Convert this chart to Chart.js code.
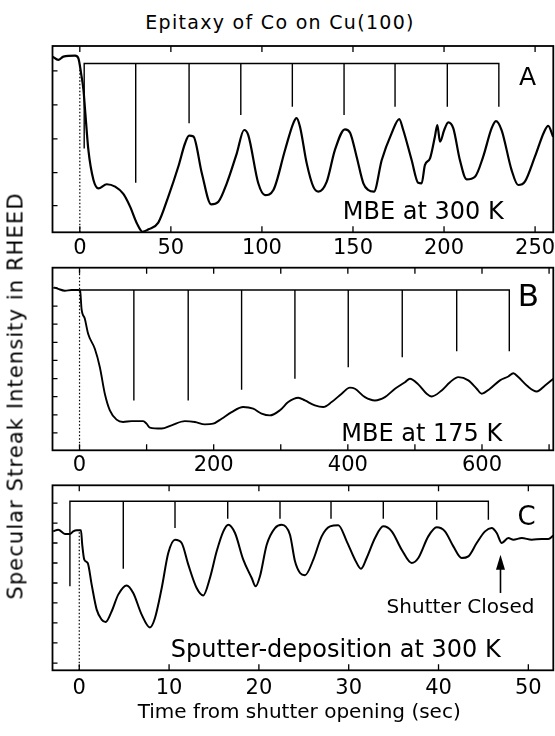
<!DOCTYPE html>
<html><head><meta charset="utf-8">
<script src="https://cdn.jsdelivr.net/npm/chart.js@4.4.1/dist/chart.umd.min.js"></script>
<style>
html,body{margin:0;padding:0;background:#fff;}
body{width:555px;height:736px;position:relative;overflow:hidden;font-family:"DejaVu Sans",sans-serif;color:#000;}
canvas{position:absolute;left:0;}
.t{position:absolute;white-space:nowrap;line-height:1;transform:translate(-50%,-50%);}
</style></head><body>
<canvas id="cA" width="555" height="222" style="top:40px"></canvas>
<canvas id="cB" width="555" height="217" style="top:262px"></canvas>
<canvas id="cC" width="555" height="221" style="top:479px"></canvas>
<div class="t" style="left:280px;top:21.7px;font-size:19px;letter-spacing:1.3px">Epitaxy of Co on Cu(100)</div>
<div class="t" style="left:15.8px;top:395.5px;font-size:21px;letter-spacing:1.1px;transform:translate(-50%,-50%) rotate(-90deg)">Specular Streak Intensity in RHEED</div>
<div class="t" style="left:299.2px;top:710.8px;font-size:20px">Time from shutter opening (sec)</div>
<div class="t" style="left:527.5px;top:76px;font-size:25px">A</div>
<div class="t" style="left:423.3px;top:210.8px;font-size:24px">MBE at 300 K</div>
<div class="t" style="left:528.3px;top:295px;font-size:31px">B</div>
<div class="t" style="left:421.7px;top:432.5px;font-size:24px">MBE at 175 K</div>
<div class="t" style="left:526.7px;top:515.5px;font-size:26px">C</div>
<div class="t" style="left:460.5px;top:606.3px;font-size:20px">Shutter Closed</div>
<div class="t" style="left:335.8px;top:649px;font-size:24px">Sputter-deposition at 300 K</div>
<script>
// ---------- Panel A : MBE at 300 K ----------
const aTime = [-15.0,-11.8,-9.0,-2.6,-0.8,0.7,2.0,2.9,4.7,7.5,
  10.2,14.8,19.4,23.9,27.6,31.3,34.4,37.7,43.1,48.6,
  54.1,57.8,60.0,62.4,67.0,72.1,76.1,80.7,86.2,90.2,
  92.5,98.0,101.7,106.3,112.7,117.2,119.0,120.9,124.6,128.2,
  131.0,135.6,140.1,145.6,148.4,152.0,155.7,158.4,161.5,165.8,
  171.2,175.4,177.6,182.2,185.8,187.7,189.5,192.3,195.0,196.3,
  197.8,200.1,202.3,205.1,208.7,212.4,217.0,221.5,226.1,228.5,
  231.6,237.1,240.7,244.4,249.9,255.0,257.2,259.9];
const aSignal = [94.3,92.5,94.3,94.8,93.4,85.3,76.4,65.6,44.2,28.1,
  23.6,25.8,24.5,20.6,13.8,4.9,0.3,1.6,5.2,19.2,
  35.3,47.8,51.9,51.4,31.7,15.0,16.4,26.3,42.4,54.9,
  52.2,26.3,20.0,22.7,44.2,58.5,61.3,56.7,37.0,24.5,
  21.8,27.2,44.2,55.3,53.5,40.6,26.3,22.7,21.8,38.8,
  53.1,60.8,54.9,38.8,26.6,26.3,36.1,39.7,51.4,57.6,
  48.6,54.9,59.0,55.8,38.8,28.4,29.8,40.6,55.8,59.7,
  54.9,33.4,25.4,27.2,40.6,54.0,57.1,51.3];
const aCombTime = [2.4,30.7,60.0,88.4,116.7,145.1,173.1,201.8,230.1];
const aCombDepth = [45.0,26.6,58.5,63.0,67.4,63.0,67.4,67.4,67.4];
const aCombTop = 90.6;
const aXTicks = [0,50,100,150,200,250];
const aXLabels = [0,50,100,150,200,250];
const aYTicks = [14.3,32.0,50.1,68.4,86.6];

// ---------- Panel B : MBE at 175 K ----------
const bTime = [-37.9,-31.9,-21.9,-11.9,-2.1,0.9,3.0,7.9,12.8,22.8,
  30.3,37.7,45.2,55.2,65.0,77.6,94.9,99.9,104.8,122.3,
  137.2,157.0,172.0,186.9,199.3,211.8,226.7,244.0,258.9,271.4,
  283.8,298.7,311.1,326.0,336.0,350.9,363.3,375.8,390.8,403.1,
  410.6,425.5,440.4,455.3,470.3,485.2,492.6,505.0,517.5,525.0,
  539.9,552.3,564.7,579.6,592.1,599.6,611.9,626.8,639.2,646.7,
  654.1,666.7,681.6,694.0,706.3];
const bSignal = [89.2,88.4,87.4,87.8,87.8,87.4,77.4,72.0,63.8,55.6,
  45.5,31.0,21.9,16.8,15.5,16.0,16.0,14.6,12.4,11.9,
  13.7,16.0,15.5,14.2,14.6,17.3,20.9,23.7,22.8,20.1,
  19.1,21.9,26.4,28.8,27.3,24.6,23.7,26.4,31.0,34.3,
  33.7,29.1,27.3,29.1,33.7,37.3,39.2,36.1,31.0,29.5,
  32.8,37.3,40.1,38.3,33.7,31.0,33.7,38.3,40.4,42.2,
  40.1,35.5,32.2,35.5,39.2];
const bCombTime = [0.4,81.0,162.0,241.6,321.1,400.6,481.1,562.3,640.7];
const bCombDepth = [87.8,27.3,27.3,33.2,39.2,45.5,51.0,54.3,54.3];
const bCombTop = 87.8;
const bXTicks = [0,100,200,300,400,500,600,700];
const bXLabels = [0,200,400,600];
const bYTicks = [9.5,19.4,29.4,39.3,49.2,59.1,69.1,79.0,88.9];

// ---------- Panel C : Sputter-deposition at 300 K ----------
const cTime = [-2.90,-2.34,-1.59,-1.04,-0.67,-0.29,0.19,0.33,0.56,0.94,
  1.38,1.94,2.49,2.94,3.61,4.34,5.28,6.01,6.95,7.87,
  8.43,9.18,9.91,10.66,11.40,12.14,13.07,13.81,14.55,15.30,
  16.04,16.59,17.34,18.26,19.20,19.64,20.12,20.87,21.79,22.54,
  23.46,24.02,24.58,25.13,26.06,26.99,27.92,28.84,29.78,30.70,
  31.37,32.00,32.93,33.85,34.79,35.90,37.02,37.75,38.86,39.80,
  40.72,41.65,42.58,43.32,44.25,45.18,45.92,46.48,47.04,47.77,
  48.33,49.27,50.38,51.49,52.23,52.78];
const cSignal = [75.1,76.0,73.7,73.7,75.1,75.7,75.7,67.9,59.8,58.0,
  46.3,32.8,27.4,26.1,31.9,40.9,45.9,41.8,30.1,23.2,
  28.3,44.5,63.4,70.6,68.8,57.1,44.5,40.5,49.9,64.3,
  75.1,78.7,74.2,59.8,49.9,45.4,50.8,67.9,76.9,78.7,
  73.3,58.9,52.6,51.4,59.8,72.4,77.8,78.4,69.7,59.8,
  54.9,60.7,71.5,77.8,75.1,65.2,58.0,60.7,72.4,77.3,
  75.1,67.0,60.7,61.6,68.8,75.1,76.9,74.2,68.8,71.5,
  70.6,71.5,70.6,71.0,71.0,72.8];
const cCombTime = [-1.04,4.90,10.66,16.53,22.35,28.03,33.85,39.80,45.55];
const cCombDepth = [45.4,54.9,76.9,81.9,81.9,81.9,81.9,81.4,81.4];
const cCombTop = 91.4;
const cXTicks = [0,10,20,30,40,50];
const cXLabels = [0,10,20,30,40,50];
const cYTicks = [3.9,14.8,25.6,36.4,47.2,58.0,68.8,79.6,90.4];
const cShutterClosed = {time: 46.9, tip: 62.5, tail: 41.8};

// ---------- helpers ----------
function pts(xs, ys){ return xs.map((x,i)=>({x:x, y:ys[i]})); }
function comb(xs, depths, top){
  const p = [];
  xs.forEach((x,i)=>{ p.push({x:x,y:top},{x:x,y:depths[i]},{x:x,y:top}); });
  return p;
}

const frameTicks = {
  id:'frameTicks',
  afterDatasetsDraw(chart, args, o){
    const ctx = chart.ctx, a = chart.chartArea, xs = chart.scales.x, ys = chart.scales.y;
    ctx.save();
    ctx.strokeStyle = '#000';
    ctx.lineWidth = 1.8;
    ctx.strokeRect(a.left, a.top, a.right - a.left, a.bottom - a.top);
    ctx.lineWidth = 1.3;
    ctx.beginPath();
    xs.ticks.forEach(t=>{
      const px = xs.getPixelForValue(t.value);
      ctx.moveTo(px, a.bottom); ctx.lineTo(px, a.bottom - o.xLen);
      ctx.moveTo(px, a.top); ctx.lineTo(px, a.top + o.xLen);
    });
    (o.yMarks||[]).forEach(v=>{
      const py = ys.getPixelForValue(v);
      ctx.moveTo(a.left, py); ctx.lineTo(a.left + o.yLen, py);
    });
    ctx.stroke();
    if (o.arrow) {
      const px = xs.getPixelForValue(o.arrow.time);
      const pTip = ys.getPixelForValue(o.arrow.tip);
      const pTail = ys.getPixelForValue(o.arrow.tail);
      ctx.lineWidth = 1.6;
      ctx.beginPath(); ctx.moveTo(px, pTail); ctx.lineTo(px, pTip + 10); ctx.stroke();
      ctx.fillStyle = '#000';
      ctx.beginPath(); ctx.moveTo(px, pTip); ctx.lineTo(px - 4.5, pTip + 15); ctx.lineTo(px + 4.5, pTip + 15); ctx.closePath(); ctx.fill();
    }
    ctx.restore();
  }
};

function makePanel(id, c){
  return new Chart(document.getElementById(id), {
    type:'line',
    data:{datasets:[
      {data: pts(c.time, c.signal), borderColor:'#000', borderWidth:c.lw, cubicInterpolationMode:'monotone', pointRadius:0},
      {data: comb(c.combTime, c.combDepth, c.combTop), borderColor:'#000', borderWidth:1.4, tension:0, pointRadius:0},
      {data: [{x:0,y:0},{x:0,y:c.dotTo}], borderColor:'#000', borderWidth:1.2, borderDash:[1.5,2], pointRadius:0}
    ]},
    options:{
      responsive:false, animation:false, devicePixelRatio:1,
      layout:{padding:{left:52.5, right:1.7, top:c.padTop, bottom:0}},
      plugins:{legend:{display:false}, tooltip:{enabled:false},
        frameTicks:{xLen:6, yLen:5, yMarks:c.yMarks, arrow:c.arrow}},
      scales:{
        x:{type:'linear', min:c.min, max:c.max,
          grid:{display:false, drawTicks:false}, border:{display:false},
          afterBuildTicks: s=>{ s.ticks = c.xMarks.map(v=>({value:v})); },
          afterFit: s=>{ s.height = c.axisH; s.paddingLeft = 0; s.paddingRight = 0; },
          ticks:{padding:c.labPad, color:'#000', font:{family:'DejaVu Sans', size:21},
            maxRotation:0, autoSkip:false,
            callback:(v)=> c.xLabels.includes(v) ? String(v) : ''}
        },
        y:{display:false, min:0, max:100}
      }
    },
    plugins:[frameTicks]
  });
}

makePanel('cA', {time:aTime, signal:aSignal, lw:2.2, combTime:aCombTime, combDepth:aCombDepth, combTop:aCombTop,
  dotTo:88, min:-15, max:260, padTop:6, axisH:29.7, labPad:4, xMarks:aXTicks, xLabels:aXLabels, yMarks:aYTicks});
makePanel('cB', {time:bTime, signal:bSignal, lw:1.9, combTime:bCombTime, combDepth:bCombDepth, combTop:bCombTop,
  dotTo:100, min:-40.3, max:706.3, padTop:5.7, axisH:28.7, labPad:2.5, xMarks:bXTicks, xLabels:bXLabels, yMarks:bYTicks});
makePanel('cC', {time:cTime, signal:cSignal, lw:2.0, combTime:cCombTime, combDepth:cCombDepth, combTop:cCombTop,
  dotTo:76, min:-2.98, max:52.78, padTop:6.3, axisH:29.7, labPad:5.5, xMarks:cXTicks, xLabels:cXLabels, yMarks:cYTicks,
  arrow:cShutterClosed});
</script>
</body></html>
